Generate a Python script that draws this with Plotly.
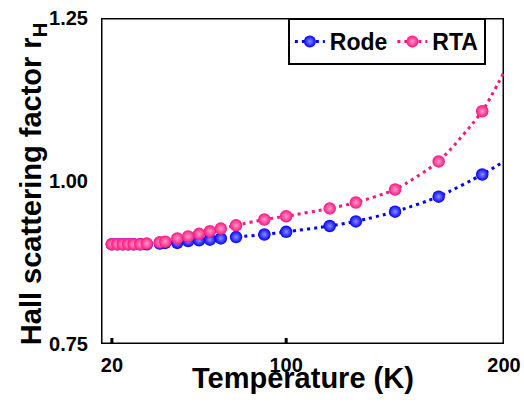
import plotly.graph_objects as go

temps = [20, 22.5, 25, 27.5, 30, 33, 36, 42, 44.5, 50, 55, 60, 65, 70, 77, 90, 100, 120, 132, 150, 170, 190]
rode = [0.903, 0.903, 0.903, 0.903, 0.903, 0.903, 0.903, 0.904, 0.905, 0.905, 0.908, 0.909, 0.910, 0.912,
        0.914, 0.918, 0.922, 0.931, 0.938, 0.953, 0.976, 1.010]
rta = [0.903, 0.903, 0.903, 0.903, 0.903, 0.903, 0.904, 0.906, 0.907, 0.912, 0.915, 0.919, 0.923, 0.927,
       0.932, 0.941, 0.946, 0.958, 0.967, 0.987, 1.030, 1.107]
fit_end_T = 200
rode_fit_end = 1.030
rta_fit_end = 1.167

x_range = [15, 200]
y_range = [0.75, 1.25]
x_ticks = [20, 100, 200]
x_tick_text = ["<b>20</b>", "<b>100</b>", "<b>200</b>"]
y_ticks = [0.75, 1.00, 1.25]
y_tick_text = ["<b>0.75</b>", "<b>1.00</b>", "<b>1.25</b>"]

FONT = "Liberation Sans, Arial, sans-serif"
BLUE = "#0000FF"
PINK = "#FF1580"

fig = go.Figure()

# frame and tick marks drawn as a line trace from the axis ranges and tick values
x0, x1 = x_range
y0, y1 = y_range
x_tick_len = (y1 - y0) * 6 / 326.0
y_tick_len = (x1 - x0) * 5 / 403.0
fx = [x0, x1, x1, x0, x0, None]
fy = [y0, y0, y1, y1, y0, None]
for t in x_ticks[:-1]:
    fx += [t, t, None]
    fy += [y0, y0 + x_tick_len, None]
for v in y_ticks:
    fx += [x0, x0 - y_tick_len, None]
    fy += [v, v, None]
fig.add_trace(go.Scatter(x=fx, y=fy, mode="lines", line=dict(color="black", width=3),
                         showlegend=False, hoverinfo="skip", cliponaxis=False))

for name, vals, end, col, grad in [("Rode", rode, rode_fit_end, BLUE, "#8C8CFF"),
                                    ("RTA", rta, rta_fit_end, PINK, "#FF9CC8")]:
    xs = temps + [fit_end_T]
    ys = vals + [end]
    sizes = [12.5] * len(temps) + [0]
    fig.add_trace(go.Scatter(
        x=xs, y=ys, name="<b>" + name + "</b>", mode="lines+markers",
        line=dict(color=col, width=3, dash="3px,4px", shape="spline", smoothing=0.6),
        marker=dict(size=sizes, color=col, opacity=1, line=dict(width=0),
                    gradient=dict(type="radial", color=grad)),
    ))

tickfont = dict(family=FONT, size=20, color="black")
titlefont = dict(family=FONT, size=29, color="black")

fig.update_xaxes(range=x_range, tickvals=x_ticks, ticktext=x_tick_text, ticks="outside", ticklen=3,
                 tickcolor="rgba(0,0,0,0)", tickfont=tickfont, showline=False,
                 showgrid=False, zeroline=False, automargin=False)
fig.update_yaxes(range=y_range, tickvals=y_ticks, ticktext=y_tick_text, ticks="outside",
                 ticklen=8, tickcolor="rgba(0,0,0,0)", tickfont=tickfont, showline=False,
                 showgrid=False, zeroline=False, automargin=False)

fig.add_annotation(text="<b>Temperature (K)</b>", xref="paper", yref="paper", x=0.5, y=-0.104,
                   xanchor="center", yanchor="middle", showarrow=False, font=titlefont)
fig.add_annotation(text="<b>Hall scattering factor r<sub>H</sub></b>", xref="paper", yref="paper",
                   x=-0.169, y=0.49, xanchor="center", yanchor="middle", textangle=-90,
                   showarrow=False, font=titlefont)

fig.update_layout(
    template="none",
    width=524, height=402,
    margin=dict(l=101, r=20, t=18, b=58, autoexpand=False),
    plot_bgcolor="white", paper_bgcolor="white",
    font=dict(family=FONT, color="black"),
    legend=dict(orientation="h", x=0.955, xanchor="right", y=1.0, yanchor="top",
                bordercolor="black", borderwidth=2, bgcolor="white",
                font=dict(family=FONT, size=23, color="black"),
                itemwidth=30),
    showlegend=True,
)

fig.write_html("out.html")
